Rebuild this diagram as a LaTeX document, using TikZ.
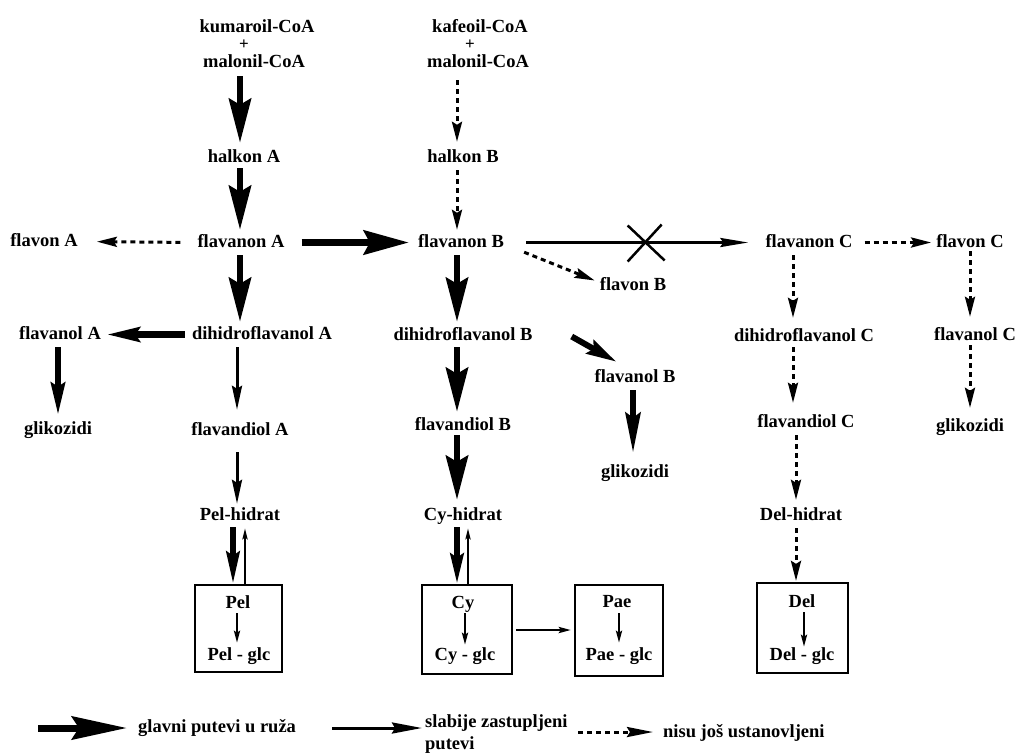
\documentclass[tikz,border=0pt]{standalone}
\usepackage{fontspec}
\setmainfont{Liberation Serif}
\usetikzlibrary{arrows.meta,calc}
\begin{document}
\begin{tikzpicture}[x=1pt,y=-1pt,
  lbl/.style={font=\fontsize{18.5}{20}\selectfont\bfseries, inner sep=0pt, text height=13pt, text depth=4pt, anchor=base},
  plus/.style={font=\fontsize{17}{18}\selectfont\bfseries, inner sep=0pt, anchor=base},
  boxst/.style={draw, line width=2.2pt, inner sep=0pt, minimum width=#1, minimum height=88pt},
  big/.style={line width=6.5pt, -{Stealth[length=44pt,width=22pt,inset=6pt]}},
  med/.style={line width=6pt, -{Stealth[length=32pt,width=14pt,inset=4pt]}},
  thinar/.style={line width=3pt, -{Stealth[length=24pt,width=10pt,inset=3pt]}},
  small/.style={line width=2.4pt, -{Stealth[length=12pt,width=6pt,inset=2pt]}},
  dsh/.style={line width=3pt, dash pattern=on 5pt off 4pt, -{Stealth[length=20pt,width=10pt,inset=3pt]}},
  xline/.style={line width=2.5pt}
]
\useasboundingbox (0,0) rectangle (1019,753);
\fill[white] (0,0) rectangle (1019,753);

% column guides
\coordinate (cA) at (240,0);
\coordinate (cA2) at (237,0);
\coordinate (cPd) at (233,0);
\coordinate (cPu) at (245,0);
\coordinate (cPi) at (237,0);
\coordinate (cG) at (58,0);
\coordinate (cB) at (457,0);
\coordinate (cCu) at (468,0);
\coordinate (cCi) at (465,0);
\coordinate (cPa) at (619,0);
\coordinate (cFB) at (633,0);
\coordinate (cC) at (793,0);
\coordinate (cC2) at (796,0);
\coordinate (cDi) at (804,0);
\coordinate (cD) at (970,0);
\coordinate (rY) at (0,630);

% nodes
\node[lbl] (kum) at (257,32) {kumaroil-CoA};
\node[plus] (p1) at (244,49) {+};
\node[lbl] (mal1) at (254,67) {malonil-CoA};
\node[lbl] (kaf) at (480,32) {kafeoil-CoA};
\node[plus] (p2) at (470,49) {+};
\node[lbl] (mal2) at (478,67) {malonil-CoA};
\node[lbl] (hA) at (244,162) {halkon A};
\node[lbl] (hB) at (463,162) {halkon B};
\node[lbl] (flA) at (44,246) {flavon A};
\node[lbl] (fA) at (241,247) {flavanon A};
\node[lbl] (fB) at (461,247) {flavanon B};
\node[lbl] (fC) at (809,247) {flavanon C};
\node[lbl] (flC) at (970,247) {flavon C};
\node[lbl] (flB) at (633,290) {flavon B};
\node[lbl] (folA) at (60,339) {flavanol A};
\node[lbl] (dA) at (262,339) {dihidroflavanol A};
\node[lbl] (dB) at (463,340) {dihidroflavanol B};
\node[lbl] (dC) at (804,341) {dihidroflavanol C};
\node[lbl] (folC) at (975,340) {flavanol C};
\node[lbl] (folB) at (635,382) {flavanol B};
\node[lbl] (gA) at (58,434) {glikozidi};
\node[lbl] (fdA) at (240,435) {flavandiol A};
\node[lbl] (fdB) at (463,430) {flavandiol B};
\node[lbl] (fdC) at (806,427) {flavandiol C};
\node[lbl] (gC) at (970,431) {glikozidi};
\node[lbl] (gB) at (635,477) {glikozidi};
\node[lbl] (pelh) at (240,520) {Pel-hidrat};
\node[lbl] (cyh) at (463,520) {Cy-hidrat};
\node[lbl] (delh) at (801,520) {Del-hidrat};

% boxes
\node[boxst=87pt, minimum height=87pt] (pelbox) at (238.5,628.5) {};
\node[boxst=90pt, minimum height=89pt] (cybox) at (467,629.5) {};
\node[boxst=88pt, minimum height=91pt] (paebox) at (619,630.5) {};
\node[boxst=91pt, minimum height=90pt] (delbox) at (802.5,628) {};
\node[lbl] (pel) at (238,608) {Pel};
\node[lbl] (pelg) at (239,660) {Pel - glc};
\node[lbl] (cy) at (463,608) {Cy};
\node[lbl] (cyg) at (465,660) {Cy - glc};
\node[lbl] (pae) at (617,607) {Pae};
\node[lbl] (paeg) at (619,660) {Pae - glc};
\node[lbl] (del) at (802,607) {Del};
\node[lbl] (delg) at (802,660) {Del - glc};

% column A
\draw[big, shorten <=5pt, shorten >=6pt] (mal1.south -| cA) -- (hA.north -| cA);
\draw[big, shorten <=2pt, shorten >=4pt] (hA.south -| cA) -- (fA.north -| cA);
\draw[dsh, shorten <=17pt, shorten >=19pt] (fA.west) -- (flA.east);
\draw[big, line width=7pt, -{Stealth[length=45pt,width=24pt,inset=6pt]}, shorten <=17pt, shorten >=9pt] (fA.east) -- (fB.west);
\draw[big, shorten <=4pt, shorten >=4pt] (fA.south -| cA) -- (dA.north -| cA);
\draw[med, line width=7pt, -{Stealth[length=33pt,width=14pt,inset=4pt]}, shorten <=7pt, shorten >=5pt] (dA.west) -- (folA.east);
\draw[med, shorten <=4pt, shorten >=6pt] (folA.south -| cG) -- (gA.north -| cG);
\draw[thinar, shorten <=4pt, shorten >=12pt] (dA.south -| cA2) -- (fdA.north -| cA2);
\draw[thinar, shorten <=13pt, shorten >=3pt] (fdA.south -| cA2) -- (pelh.north -| cA2);
\draw[med, -{Stealth[length=32pt,width=13pt,inset=4pt]}, shorten <=3pt] (pelh.south -| cPd) -- (pelbox.north -| cPd);
\draw[small, line width=2.2pt, -{Stealth[length=11pt,width=5pt,inset=2pt]}, shorten >=4pt] (pelbox.north -| cPu) -- (pelh.south -| cPu);
\draw[small, shorten <=1pt, shorten >=4pt] (pel.south -| cPi) -- (pelg.north -| cPi);

% column B
\draw[dsh, shorten <=9pt, shorten >=7pt] (mal2.south -| cB) -- (hB.north -| cB);
\draw[dsh, shorten <=4pt, shorten >=4pt] (hB.south -| cB) -- (fB.north -| cB);
\draw[thinar, -{Stealth[length=28pt,width=9pt,inset=3pt]}, shorten <=22pt, shorten >=17pt] (fB.east) -- coordinate[pos=0.538] (X) (fC.west);
\draw[xline] ($(X)+(-17,-17)$) -- ($(X)+(20,18)$);
\draw[xline] ($(X)+(-17,19)$) -- ($(X)+(17,-18)$);
\draw[dsh] ($(fB.south east)+(20,1)$) -- ($(flB.west)+(-5,-5)$);
\draw[big, shorten <=4pt, shorten >=5pt] (fB.south -| cB) -- (dB.north -| cB);
\draw[med, -{Stealth[length=30pt,width=15pt,inset=4pt]}] ($(dB.east)+(39,1)$) -- ($(folB.north west)+(22,-7)$);
\draw[med, -{Stealth[length=40pt,width=15pt,inset=5pt]}, shorten <=4pt, shorten >=11pt] (folB.south -| cFB) -- (gB.north -| cFB);
\draw[big, shorten <=3pt, shorten >=5pt] (dB.south -| cB) -- (fdB.north -| cB);
\draw[big, shorten <=1pt, shorten >=7pt] (fdB.south -| cB) -- (cyh.north -| cB);
\draw[med, -{Stealth[length=30pt,width=13pt,inset=4pt]}, shorten <=3pt] (cyh.south -| cB) -- (cybox.north -| cB);
\draw[small, line width=2.2pt, -{Stealth[length=11pt,width=5pt,inset=2pt]}, shorten >=4pt] (cybox.north -| cCu) -- (cyh.south -| cCu);
\draw[small, shorten <=1pt, shorten >=2pt] (cy.south -| cCi) -- (cyg.north -| cCi);
\draw[small, shorten <=3pt, shorten >=3pt] (cybox.east |- rY) -- (paebox.west |- rY);
\draw[small, shorten <=2pt, shorten >=4pt] (pae.south -| cPa) -- (paeg.north -| cPa);

% column C
\draw[dsh, shorten <=4pt, shorten >=10pt] (fC.south -| cC) -- (dC.north -| cC);
\draw[dsh, shorten <=2pt, shorten >=11pt] (dC.south -| cC) -- (fdC.north -| cC);
\draw[dsh, shorten <=4pt, shorten >=7pt] (fdC.south -| cC2) -- (delh.north -| cC2);
\draw[dsh, shorten <=4pt, shorten >=1pt] (delh.south -| cC2) -- (delbox.north -| cC2);
\draw[small, shorten <=1pt] (del.south -| cDi) -- (delg.north -| cDi);
\draw[dsh, shorten <=12pt, shorten >=5pt] (fC.east) -- (flC.west);
\draw[dsh, shorten >=10pt] (flC.south -| cD) -- (folC.north -| cD);
\draw[dsh, shorten <=1pt, shorten >=10pt] (folC.south -| cD) -- (gC.north -| cD);

% legend
\coordinate (L1s) at (38,728);
\node[lbl, anchor=base west] (lt1) at (138,732) {glavni putevi u ruža};
\draw[big, line width=7pt, -{Stealth[length=55pt,width=23pt,inset=7pt]}, shorten >=11pt] (L1s) -- (lt1.west |- L1s);
\coordinate (L2s) at (332,728);
\node[lbl, anchor=base west] (lt2) at (425,727) {slabije zastupljeni};
\node[lbl, anchor=base west] (lt2b) at (425,749) {putevi};
\draw[thinar, -{Stealth[length=30pt,width=11pt,inset=3pt]}, shorten >=3pt] (L2s) -- (lt2.west |- L2s);
\coordinate (L3s) at (578,732);
\node[lbl, anchor=base west] (lt3) at (663,737) {nisu još ustanovljeni};
\draw[dsh, -{Stealth[length=26pt,width=10pt,inset=3pt]}, shorten >=10pt] (L3s) -- (lt3.west |- L3s);
\end{tikzpicture}
\end{document}
